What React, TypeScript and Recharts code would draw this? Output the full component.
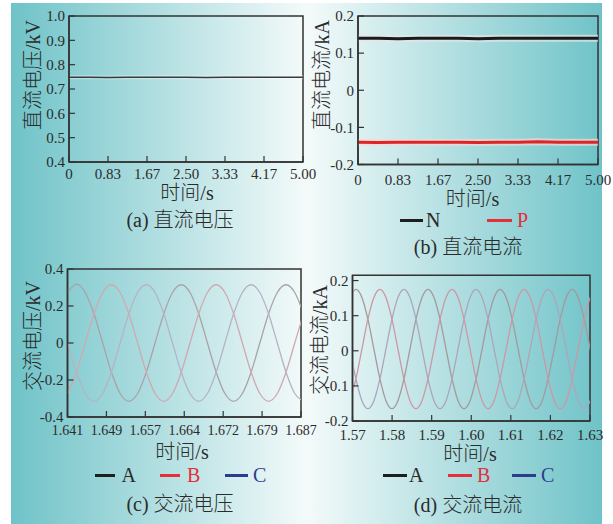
import React from 'react';
import { LineChart, Line, XAxis, YAxis, ReferenceArea } from 'recharts';

const FONT = "'Liberation Serif', 'Times New Roman', 'Noto Sans CJK SC', serif";
const TXT = '#2b2b2b';
const FRAME = '#333333';

// ---------- (a) / (b) DC data ----------
const dcTime = [0, 0.42, 0.83, 1.25, 1.67, 2.08, 2.5, 2.92, 3.33, 3.75, 4.17, 4.58, 5.0];
const dcVoltage = [0.748, 0.748, 0.747, 0.748, 0.748, 0.748, 0.748, 0.747, 0.748, 0.748, 0.748, 0.748, 0.748];
const dcCurrentN = [0.14, 0.14, 0.139, 0.14, 0.14, 0.14, 0.139, 0.14, 0.14, 0.14, 0.14, 0.14, 0.14];
const dcCurrentP = [-0.14, -0.141, -0.14, -0.14, -0.14, -0.14, -0.141, -0.14, -0.14, -0.139, -0.14, -0.14, -0.14];

const dcTimeTicks = [0, 0.8333, 1.6667, 2.5, 3.3333, 4.1667, 5];
const dcTimeLabels = ['0', '0.83', '1.67', '2.50', '3.33', '4.17', '5.00'];
const dcVoltTicks = [0.4, 0.5, 0.6, 0.7, 0.8, 0.9, 1.0];
const dcVoltLabels = ['0.4', '0.5', '0.6', '0.7', '0.8', '0.9', '1.0'];
const dcCurTicks = [-0.2, -0.1, 0, 0.1, 0.2];
const dcCurLabels = ['-0.2', '-0.1', '0', '0.1', '0.2'];

// ---------- (c) AC voltage ----------
const acvTime = [1.64105, 1.64277, 1.64449, 1.64621, 1.64793, 1.64965, 1.65137, 1.65309, 1.65481, 1.65653,
  1.65825, 1.65997, 1.66169, 1.66341, 1.66513, 1.66685, 1.66857, 1.67029, 1.67201, 1.67373,
  1.67545, 1.67717, 1.67889, 1.68061, 1.68233, 1.68405, 1.68577, 1.68749];
const acvA = [0.273, 0.318, 0.273, 0.158, 0, -0.158, -0.273, -0.315, -0.273, -0.158,
  0, 0.158, 0.273, 0.315, 0.273, 0.158, 0, -0.158, -0.273, -0.315,
  -0.273, -0.158, 0, 0.158, 0.273, 0.315, 0.273, 0.158];
const acvB = [-0.273, -0.158, 0, 0.158, 0.273, 0.315, 0.273, 0.158, 0, -0.158,
  -0.273, -0.315, -0.273, -0.158, 0, 0.158, 0.273, 0.315, 0.273, 0.158,
  0, -0.158, -0.273, -0.315, -0.273, -0.158, 0, 0.158];
const acvC = [0, -0.158, -0.273, -0.315, -0.273, -0.158, 0, 0.158, 0.273, 0.315,
  0.273, 0.158, 0, -0.158, -0.273, -0.315, -0.273, -0.158, 0, 0.158,
  0.273, 0.315, 0.273, 0.158, 0, -0.158, -0.273, -0.315];
const acvTicks = [1.641, 1.64867, 1.65633, 1.664, 1.67167, 1.67933, 1.687];
const acvTickLabels = ['1.641', '1.649', '1.657', '1.664', '1.672', '1.679', '1.687'];
const acvYTicks = [-0.4, -0.2, 0, 0.2, 0.4];
const acvYLabels = ['-0.4', '-0.2', '0', '0.2', '0.4'];

// ---------- (d) AC current ----------
const aciTime = [1.56934, 1.57086, 1.57238, 1.57389, 1.57541, 1.57693, 1.57845, 1.57997, 1.58148, 1.583,
  1.58452, 1.58604, 1.58756, 1.58907, 1.59059, 1.59211, 1.59363, 1.59515, 1.59666, 1.59818,
  1.5997, 1.60122, 1.60274, 1.60425, 1.60577, 1.60729, 1.60881, 1.61033, 1.61184, 1.61336,
  1.61488, 1.6164, 1.61792, 1.61943, 1.62095, 1.62247, 1.62399, 1.62551, 1.62702, 1.62854,
  1.63006, 1.63158];
const aciA = [0.152, 0.175, 0.152, 0.09, 0.005, -0.08, -0.142, -0.165, -0.142, -0.08,
  0.005, 0.09, 0.152, 0.175, 0.152, 0.09, 0.005, -0.08, -0.142, -0.165,
  -0.142, -0.08, 0.005, 0.09, 0.152, 0.175, 0.152, 0.09, 0.005, -0.08,
  -0.142, -0.165, -0.142, -0.08, 0.005, 0.09, 0.152, 0.175, 0.152, 0.09,
  0.005, -0.08];
const aciB = [-0.142, -0.08, 0.005, 0.09, 0.152, 0.175, 0.152, 0.09, 0.005, -0.08,
  -0.142, -0.165, -0.142, -0.08, 0.005, 0.09, 0.152, 0.175, 0.152, 0.09,
  0.005, -0.08, -0.142, -0.165, -0.142, -0.08, 0.005, 0.09, 0.152, 0.175,
  0.152, 0.09, 0.005, -0.08, -0.142, -0.165, -0.142, -0.08, 0.005, 0.09,
  0.152, 0.175];
const aciC = [0.005, -0.08, -0.142, -0.165, -0.142, -0.08, 0.005, 0.09, 0.152, 0.175,
  0.152, 0.09, 0.005, -0.08, -0.142, -0.165, -0.142, -0.08, 0.005, 0.09,
  0.152, 0.175, 0.152, 0.09, 0.005, -0.08, -0.142, -0.165, -0.142, -0.08,
  0.005, 0.09, 0.152, 0.175, 0.152, 0.09, 0.005, -0.08, -0.142, -0.165,
  -0.142, -0.08];
const aciTicks = [1.57, 1.58, 1.59, 1.6, 1.61, 1.62, 1.63];
const aciTickLabels = ['1.57', '1.58', '1.59', '1.60', '1.61', '1.62', '1.63'];
const aciYTicks = [-0.2, -0.1, 0, 0.1, 0.2];
const aciYLabels = ['-0.2', '-0.1', '0', '0.1', '0.2'];

const dcData = dcTime.map((t, i) => ({ t, U: dcVoltage[i], N: dcCurrentN[i], P: dcCurrentP[i] }));
const acvData = acvTime.map((t, i) => ({ t, A: acvA[i], B: acvB[i], C: acvC[i] }));
const aciData = aciTime.map((t, i) => ({ t, A: aciA[i], B: aciB[i], C: aciC[i] }));

type LineSpec = { key: string; color: string; width: number; opacity?: number; type?: any };

type PanelProps = {
  left: number; top: number; width: number; height: number;
  margin: { top: number; right: number; bottom: number; left: number };
  yWidth: number; xHeight: number;
  data: any[];
  xDomain: [number, number]; xTicks: number[]; xLabels: string[];
  yDomain: [number, number]; yTicks: number[]; yLabels: string[];
  xFont: number; xTickMargin: number;
  lines: LineSpec[];
};

function Panel(p: PanelProps) {
  const tickStyle = { fill: TXT, fontFamily: FONT };
  const axisLine = { stroke: FRAME, strokeWidth: 1.5 };
  return (
    <div style={{ position: 'absolute', left: p.left, top: p.top }}>
      <LineChart width={p.width} height={p.height} data={p.data} margin={p.margin}>
        <XAxis
          dataKey="t" type="number" domain={p.xDomain} ticks={p.xTicks} interval={0}
          allowDataOverflow height={p.xHeight}
          tickFormatter={(v: number, i: number) => p.xLabels[i]}
          tick={{ ...tickStyle, fontSize: p.xFont }}
          tickSize={-6} tickMargin={p.xTickMargin}
          tickLine={{ stroke: FRAME, strokeWidth: 1.2 }} axisLine={axisLine}
        />
        <YAxis
          type="number" domain={p.yDomain} ticks={p.yTicks} interval={0} allowDataOverflow
          width={p.yWidth}
          tickFormatter={(v: number, i: number) => p.yLabels[i]}
          tick={{ ...tickStyle, fontSize: 15 }}
          tickSize={-6} tickMargin={10}
          tickLine={{ stroke: FRAME, strokeWidth: 1.2 }} axisLine={axisLine}
        />
        {p.lines.map((l, i) => (
          <Line key={i} dataKey={l.key} type={l.type || 'linear'} stroke={l.color}
            strokeWidth={l.width} strokeOpacity={l.opacity ?? 1} dot={false}
            activeDot={false} isAnimationActive={false} />
        ))}
        <ReferenceArea x1={p.xDomain[0]} x2={p.xDomain[1]} y1={p.yDomain[0]} y2={p.yDomain[1]}
          fill="none" fillOpacity={0} stroke={FRAME} strokeWidth={1.5} strokeOpacity={1} ifOverflow="visible" />
      </LineChart>
    </div>
  );
}

function CText({ x, y, children, size = 20, color = TXT, rotate = false }: any) {
  return (
    <div style={{
      position: 'absolute', left: x, top: y, whiteSpace: 'nowrap', fontSize: size, lineHeight: 1,
      color, fontWeight: 300,
      transform: rotate ? 'translate(-50%,-50%) rotate(-90deg)' : 'translate(-50%,-50%)',
    }}>{children}</div>
  );
}

function LegendItem({ x1, x2, tx, y, color, label, textColor }: any) {
  return (
    <>
      <div style={{ position: 'absolute', left: x1, top: y - 1.5, width: x2 - x1, height: 3, background: color }} />
      <div style={{ position: 'absolute', left: tx, top: y, transform: 'translateY(-50%)', fontSize: 20, lineHeight: 1, color: textColor }}>{label}</div>
    </>
  );
}

const LA = '#1e1e1e';
const LB = '#e3303a';
const LC = '#2d3d8e';

export default function App() {
  return (
    <div style={{ position: 'absolute', left: 0, top: 0, width: 613, height: 524, background: '#ffffff', fontFamily: FONT, color: TXT, overflow: 'hidden' }}>
      <style>{`.recharts-surface{overflow:visible}`}</style>
      <div style={{
        position: 'absolute', left: 11, top: 3, width: 591, height: 521,
        background: 'linear-gradient(to right, #6fc3c8 0%, #f4fafa 50%, #6fc3c8 100%)',
      }} />

      {/* (a) */}
      <Panel left={20} top={5} width={290} height={180}
        margin={{ top: 11, right: 7, bottom: 0, left: 0 }} yWidth={49} xHeight={23}
        data={dcData} xDomain={[0, 5]} xTicks={dcTimeTicks} xLabels={dcTimeLabels}
        yDomain={[0.4, 1.0]} yTicks={dcVoltTicks} yLabels={dcVoltLabels}
        xFont={15} xTickMargin={12}
        lines={[
          { key: 'U', color: '#ffffff', width: 4, opacity: 0.35 },
          { key: 'U', color: '#3a3a3a', width: 1.6 },
        ]} />
      <CText x={33} y={75} rotate>直流电压/kV</CText>
      <CText x={187} y={193}>时间/s</CText>
      <CText x={180} y={220}>(a) 直流电压</CText>

      {/* (b) */}
      <Panel left={310} top={5} width={295} height={180}
        margin={{ top: 11, right: 7, bottom: 0, left: 0 }} yWidth={48} xHeight={20.5}
        data={dcData} xDomain={[0, 5]} xTicks={dcTimeTicks} xLabels={dcTimeLabels}
        yDomain={[-0.2, 0.2]} yTicks={dcCurTicks} yLabels={dcCurLabels}
        xFont={15} xTickMargin={16}
        lines={[
          { key: 'N', color: '#e6e6e6', width: 7, opacity: 0.7 },
          { key: 'P', color: '#f4d8d8', width: 7, opacity: 0.7 },
          { key: 'N', color: '#1a1a1a', width: 3 },
          { key: 'P', color: '#e02424', width: 3 },
        ]} />
      <CText x={321.5} y={75} rotate>直流电流/kA</CText>
      <CText x={472.5} y={199}>时间/s</CText>
      <LegendItem x1={400} x2={423} tx={426} y={220} color={LA} label="N" textColor={TXT} />
      <LegendItem x1={487} x2={512} tx={517} y={220} color={LB} label="P" textColor={LB} />
      <CText x={468} y={246.5}>(b) 直流电流</CText>

      {/* (c) */}
      <Panel left={20} top={260} width={290} height={180}
        margin={{ top: 9, right: 9, bottom: 0, left: 0 }} yWidth={47.5} xHeight={23}
        data={acvData} xDomain={[1.641, 1.687]} xTicks={acvTicks} xLabels={acvTickLabels}
        yDomain={[-0.4, 0.4]} yTicks={acvYTicks} yLabels={acvYLabels}
        xFont={14} xTickMargin={14.5}
        lines={[
          { key: 'A', color: '#aaa3a6', width: 1.3, type: 'monotone' },
          { key: 'B', color: '#cfa9b0', width: 1.3, type: 'monotone' },
          { key: 'C', color: '#b6b3c4', width: 1.3, type: 'monotone' },
        ]} />
      <CText x={33} y={336} rotate>交流电压/kV</CText>
      <CText x={182} y={452}>时间/s</CText>
      <LegendItem x1={95} x2={115} tx={121.5} y={475} color={LA} label="A" textColor={TXT} />
      <LegendItem x1={160} x2={180} tx={187} y={475} color={LB} label="B" textColor={LB} />
      <LegendItem x1={225} x2={248} tx={253} y={475} color={LC} label="C" textColor={LC} />
      <CText x={180} y={504}>(c) 交流电压</CText>

      {/* (d) */}
      <Panel left={310} top={260} width={295} height={180}
        margin={{ top: 15.3, right: 15, bottom: 0, left: 0 }} yWidth={42.5} xHeight={19}
        data={aciData} xDomain={[1.57, 1.63]} xTicks={aciTicks} xLabels={aciTickLabels}
        yDomain={[-0.2, 0.215]} yTicks={aciYTicks} yLabels={aciYLabels}
        xFont={15} xTickMargin={14.5}
        lines={[
          { key: 'A', color: '#a39a9e', width: 1.3, type: 'monotone' },
          { key: 'B', color: '#cc98a4', width: 1.3, type: 'monotone' },
          { key: 'C', color: '#ada6ba', width: 1.3, type: 'monotone' },
        ]} />
      <CText x={320} y={340} rotate>交流电流/kA</CText>
      <CText x={470} y={454}>时间/s</CText>
      <LegendItem x1={383} x2={407} tx={409} y={475} color={LA} label="A" textColor={TXT} />
      <LegendItem x1={448} x2={472} tx={477} y={475} color={LB} label="B" textColor={LB} />
      <LegendItem x1={512} x2={536} tx={541} y={475} color={LC} label="C" textColor={LC} />
      <CText x={468} y={505}>(d) 交流电流</CText>
    </div>
  );
}
